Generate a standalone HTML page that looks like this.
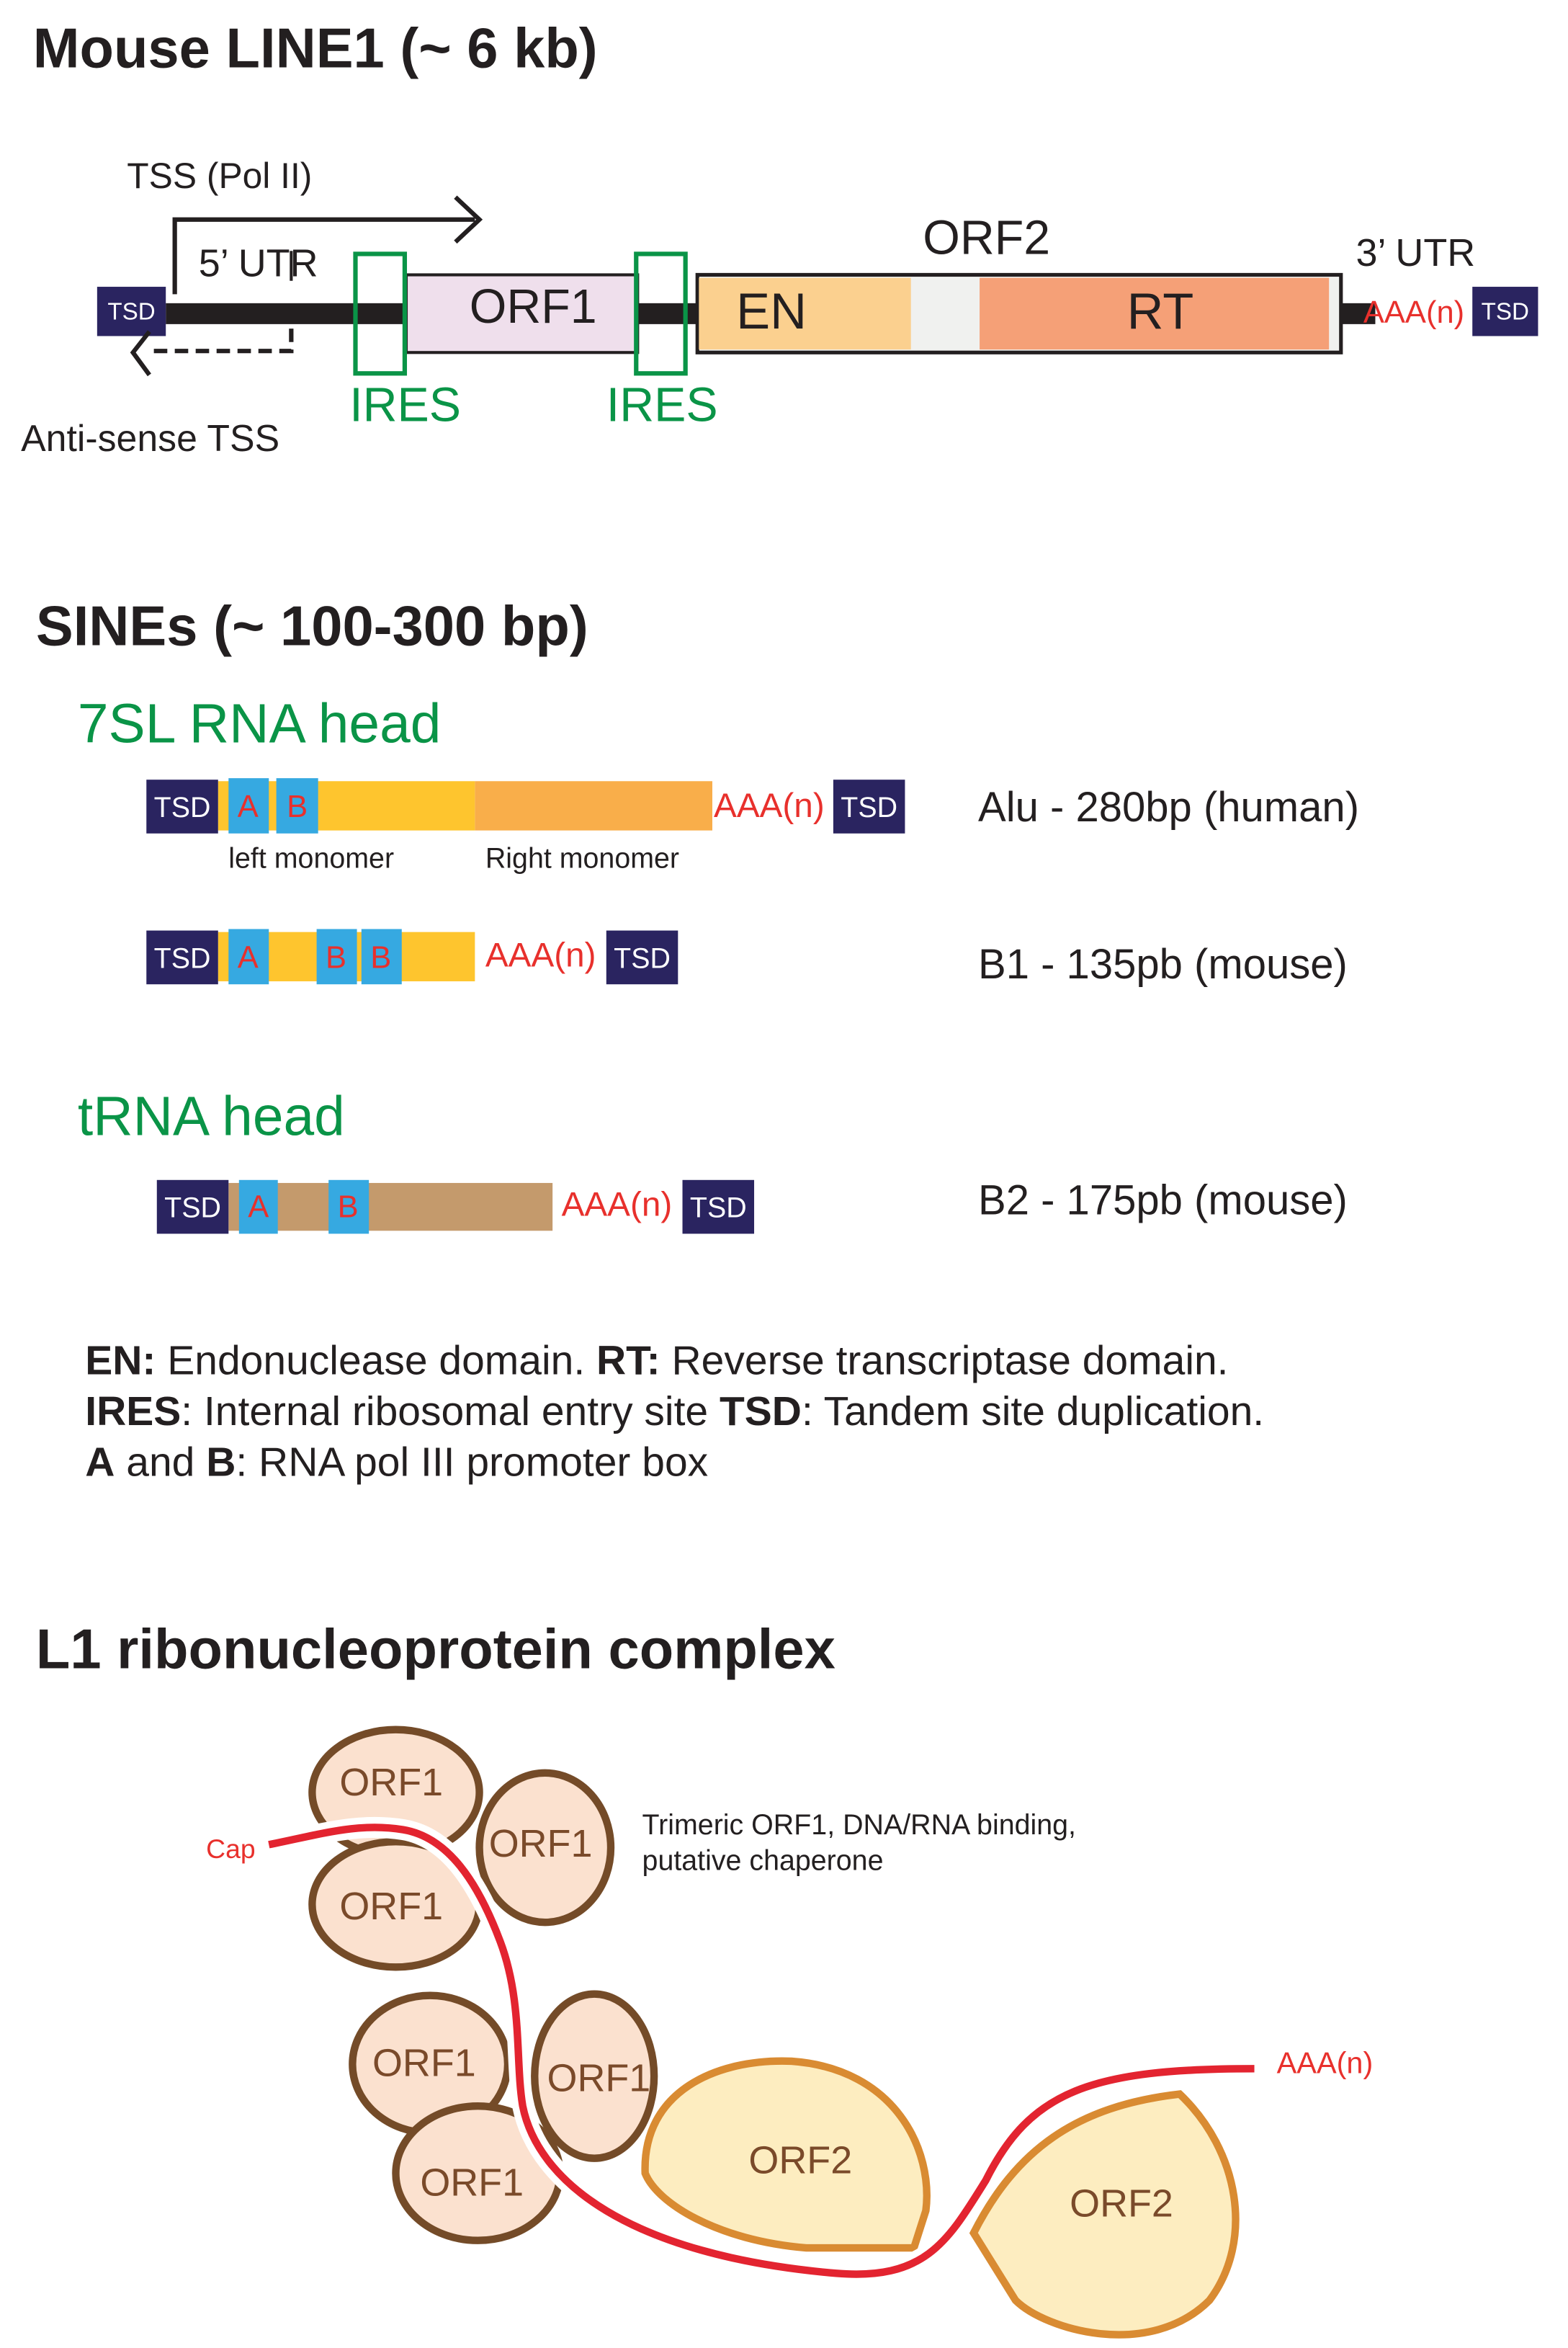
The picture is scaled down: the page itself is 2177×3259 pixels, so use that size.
<!DOCTYPE html>
<html><head><meta charset="utf-8"><style>html,body{margin:0;padding:0;background:#fff}svg{display:block}</style></head>
<body>
<svg width="2177" height="3259" viewBox="0 0 1050 1572" xmlns="http://www.w3.org/2000/svg" font-family="Liberation Sans, sans-serif">
<rect width="1050" height="1572" fill="#fff"/>
<text x="22" y="45" font-size="37.5" font-weight="bold" fill="#231f20">Mouse LINE1 (~ 6 kb)</text>
<text x="85" y="126" font-size="24" fill="#231f20">TSS (Pol II)</text>
<path d="M117 197 V147 H318" stroke="#231f20" stroke-width="3" fill="none"/>
<path d="M305 132 L321 147 L305 162" stroke="#231f20" stroke-width="3" fill="none"/>
<text x="133" y="185" font-size="26" fill="#231f20">5’ UTR</text>
<line x1="195" y1="168" x2="195" y2="188" stroke="#231f20" stroke-width="2"/>
<rect x="111" y="203" width="162" height="14" fill="#231f20"/>
<rect x="425" y="203" width="44" height="14" fill="#231f20"/>
<rect x="897" y="203" width="24" height="14" fill="#231f20"/>
<rect x="65" y="192" width="46" height="33" fill="#2a2460"/>
<text x="88" y="214" font-size="16" fill="#fff" text-anchor="middle">TSD</text>
<rect x="272" y="184" width="155" height="52" fill="#efdfec" stroke="#231f20" stroke-width="2"/>
<text x="357" y="216" font-size="32" fill="#231f20" text-anchor="middle">ORF1</text>
<rect x="467" y="184" width="431" height="52" fill="#f0f1ef" stroke="#231f20" stroke-width="2.5"/>
<rect x="468" y="186" width="142" height="48" fill="#fbd08f"/>
<rect x="656" y="186" width="234" height="48" fill="#f5a077"/>
<text x="493" y="220" font-size="34" fill="#231f20">EN</text>
<text x="777" y="220" font-size="34" fill="#231f20" text-anchor="middle">RT</text>
<text x="618" y="170" font-size="32" fill="#231f20">ORF2</text>
<text x="908" y="178" font-size="26" fill="#231f20">3’ UTR</text>
<rect x="238" y="170" width="33" height="80" fill="none" stroke="#0a9447" stroke-width="3"/>
<rect x="426" y="170" width="33" height="80" fill="none" stroke="#0a9447" stroke-width="3"/>
<text x="913" y="216" font-size="21" fill="#e8302c">AAA(n)</text>
<rect x="986" y="192" width="44" height="33" fill="#2a2460"/>
<text x="1008" y="214" font-size="16" fill="#fff" text-anchor="middle">TSD</text>
<path d="M195 220 V235 H100" stroke="#231f20" stroke-width="3" fill="none" stroke-dasharray="9 5"/>
<path d="M100 222 L89 236 L100 251" stroke="#231f20" stroke-width="3" fill="none"/>
<text x="234" y="282" font-size="32" fill="#0a9447">IRES</text>
<text x="406" y="282" font-size="32" fill="#0a9447">IRES</text>
<text x="14" y="302" font-size="25" fill="#231f20">Anti-sense TSS</text>

<text x="24" y="432" font-size="37.5" font-weight="bold" fill="#231f20">SINEs (~ 100-300 bp)</text>
<text x="52" y="497" font-size="37" fill="#0a9447">7SL RNA head</text>
<rect x="146" y="523" width="172" height="33" fill="#fec52e"/>
<rect x="318" y="523" width="159" height="33" fill="#f9ae4a"/>
<rect x="153" y="521" width="27" height="37" fill="#36a9e1"/>
<rect x="185" y="521" width="28" height="37" fill="#36a9e1"/>
<text x="166" y="547" font-size="21" fill="#e8302c" text-anchor="middle">A</text>
<text x="199" y="547" font-size="21" fill="#e8302c" text-anchor="middle">B</text>
<rect x="98" y="522" width="48" height="36" fill="#2a2460"/>
<text x="122" y="547" font-size="19" fill="#fff" text-anchor="middle">TSD</text>
<text x="478" y="547" font-size="23" fill="#e8302c">AAA(n)</text>
<rect x="558" y="522" width="48" height="36" fill="#2a2460"/>
<text x="582" y="547" font-size="19" fill="#fff" text-anchor="middle">TSD</text>
<text x="655" y="550" font-size="28" fill="#231f20">Alu - 280bp (human)</text>
<text x="153" y="581" font-size="19" fill="#231f20">left monomer</text>
<text x="325" y="581" font-size="19" fill="#231f20">Right monomer</text>
<rect x="146" y="624" width="172" height="33" fill="#fec52e"/>
<rect x="153" y="622" width="27" height="37" fill="#36a9e1"/>
<rect x="212" y="622" width="27" height="37" fill="#36a9e1"/>
<rect x="242" y="622" width="27" height="37" fill="#36a9e1"/>
<text x="166" y="648" font-size="21" fill="#e8302c" text-anchor="middle">A</text>
<text x="225" y="648" font-size="21" fill="#e8302c" text-anchor="middle">B</text>
<text x="255" y="648" font-size="21" fill="#e8302c" text-anchor="middle">B</text>
<rect x="98" y="623" width="48" height="36" fill="#2a2460"/>
<text x="122" y="648" font-size="19" fill="#fff" text-anchor="middle">TSD</text>
<text x="325" y="647" font-size="23" fill="#e8302c">AAA(n)</text>
<rect x="406" y="623" width="48" height="36" fill="#2a2460"/>
<text x="430" y="648" font-size="19" fill="#fff" text-anchor="middle">TSD</text>
<text x="655" y="655" font-size="28" fill="#231f20">B1 - 135pb (mouse)</text>
<text x="52" y="760" font-size="37" fill="#0a9447">tRNA head</text>
<rect x="153" y="792" width="217" height="32" fill="#c49a6c"/>
<rect x="160" y="790" width="26" height="36" fill="#36a9e1"/>
<rect x="220" y="790" width="27" height="36" fill="#36a9e1"/>
<text x="173" y="815" font-size="21" fill="#e8302c" text-anchor="middle">A</text>
<text x="233" y="815" font-size="21" fill="#e8302c" text-anchor="middle">B</text>
<rect x="105" y="790" width="48" height="36" fill="#2a2460"/>
<text x="129" y="815" font-size="19" fill="#fff" text-anchor="middle">TSD</text>
<text x="376" y="814" font-size="23" fill="#e8302c">AAA(n)</text>
<rect x="457" y="790" width="48" height="36" fill="#2a2460"/>
<text x="481" y="815" font-size="19" fill="#fff" text-anchor="middle">TSD</text>
<text x="655" y="813" font-size="28" fill="#231f20">B2 - 175pb (mouse)</text>

<text x="57" y="920" font-size="27.5" fill="#231f20"><tspan font-weight="bold">EN:</tspan> Endonuclease domain. <tspan font-weight="bold">RT:</tspan> Reverse transcriptase domain.</text>
<text x="57" y="954" font-size="27.5" fill="#231f20"><tspan font-weight="bold">IRES</tspan>: Internal ribosomal entry site <tspan font-weight="bold">TSD</tspan>: Tandem site duplication.</text>
<text x="57" y="988" font-size="27.5" fill="#231f20"><tspan font-weight="bold">A</tspan> and <tspan font-weight="bold">B</tspan>: RNA pol III promoter box</text>

<text x="24" y="1117" font-size="37.5" font-weight="bold" fill="#231f20">L1 ribonucleoprotein complex</text>
<g stroke="#744b28" stroke-width="5" fill="#fbe1cf">
<ellipse cx="365" cy="1237" rx="44" ry="50"/>
<ellipse cx="265" cy="1200" rx="56" ry="42"/>
<ellipse cx="265" cy="1275" rx="56" ry="42"/>
<ellipse cx="398" cy="1390" rx="40" ry="55"/>
<ellipse cx="288" cy="1382" rx="52" ry="46"/>
<ellipse cx="320" cy="1455" rx="55" ry="45"/>
</g>
<g stroke="#d98b32" stroke-width="5" fill="#fdedc0">
<path d="M432 1455 C430 1400 480 1378 530 1380 C600 1385 625 1440 620 1480 L612 1505 L540 1505 C480 1500 440 1475 432 1455Z"/>
<path d="M652 1495 C680 1440 720 1410 790 1402 C830 1440 840 1500 810 1540 C770 1580 700 1560 680 1540Z"/>
</g>
<path d="M180 1235 C215 1228 240 1220 270 1225 C300 1230 320 1260 335 1300 C350 1340 345 1380 350 1410 C360 1460 420 1510 560 1522 C620 1527 635 1500 660 1460 C690 1400 730 1385 840 1385" fill="none" stroke="#fff" stroke-width="14"/>
<path d="M180 1235 C215 1228 240 1220 270 1225 C300 1230 320 1260 335 1300 C350 1340 345 1380 350 1410 C360 1460 420 1510 560 1522 C620 1527 635 1500 660 1460 C690 1400 730 1385 840 1385" fill="none" stroke="#e32430" stroke-width="5"/>
<g font-size="26" fill="#7a4a2a" text-anchor="middle">
<text x="262" y="1202">ORF1</text>
<text x="362" y="1243">ORF1</text>
<text x="262" y="1285">ORF1</text>
<text x="284" y="1390">ORF1</text>
<text x="401" y="1400">ORF1</text>
<text x="316" y="1470">ORF1</text>
<text x="536" y="1455">ORF2</text>
<text x="751" y="1484">ORF2</text>
</g>
<text x="138" y="1244" font-size="18" fill="#e8302c">Cap</text>
<text x="855" y="1388" font-size="20" fill="#e8302c">AAA(n)</text>
<text x="430" y="1228" font-size="19" fill="#231f20">Trimeric ORF1, DNA/RNA binding,</text>
<text x="430" y="1252" font-size="19" fill="#231f20">putative chaperone</text>
</svg>
</body></html>
